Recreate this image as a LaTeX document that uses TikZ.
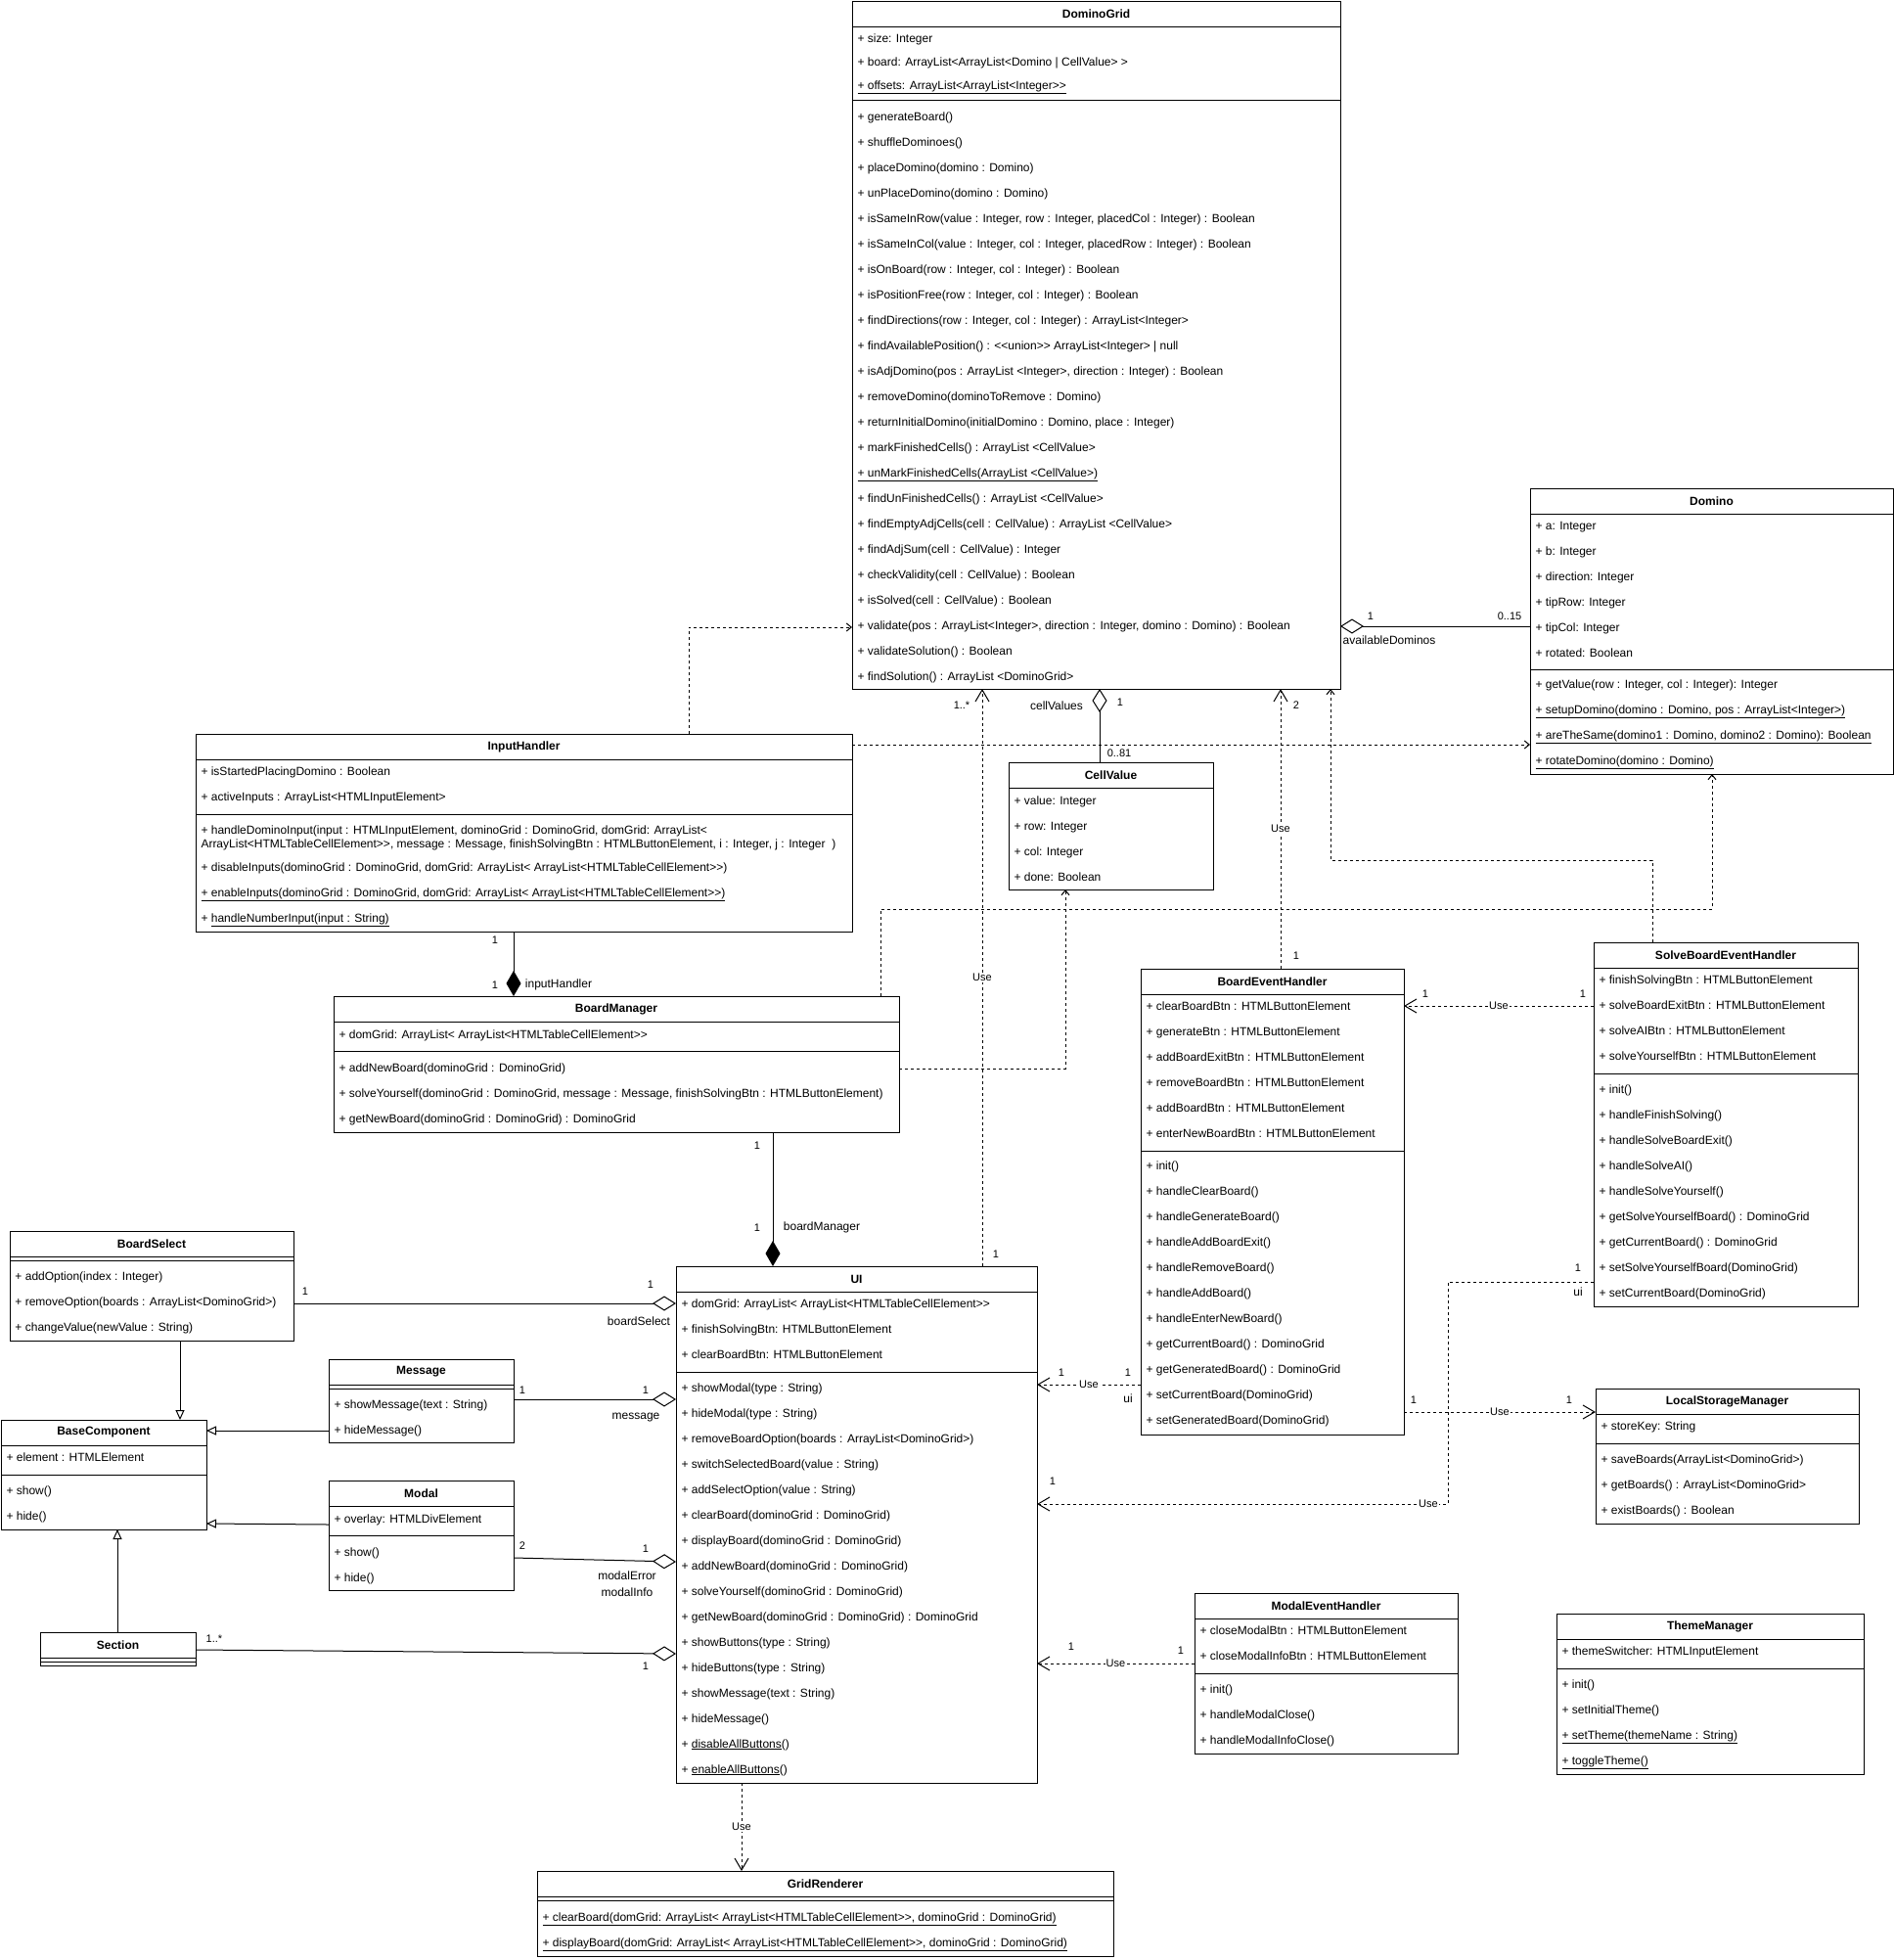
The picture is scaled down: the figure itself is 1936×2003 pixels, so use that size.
\documentclass[tikz,border=0pt]{standalone}
\usepackage{fontspec}
\setmainfont{Liberation Sans}[Ligatures=TeXOff]
\usepackage{tikz}
\usetikzlibrary{calc}
\usetikzlibrary{arrows.meta}
\tikzset{
  class_box/.style = {draw, rectangle, anchor=north west, inner sep=0pt,
    outer sep=0pt, fill=white},
  class_title/.style = {font=\fontsize{12}{14}\selectfont\bfseries, inner sep=0pt},
  member/.style = {anchor=west, inner sep=0pt, font=\fontsize{12}{14}\selectfont,
    text height=8.6pt, text depth=2.5pt},
  mult/.style = {font=\fontsize{11}{13}\selectfont, inner sep=0pt},
  role/.style = {font=\fontsize{12}{14}\selectfont, inner sep=0pt},
  use_label/.style = {font=\fontsize{11}{13}\selectfont, fill=white, inner sep=1pt},
  dep_line/.style = {dash pattern=on 3pt off 3pt,
    -{Straight Barb[length=5pt,width=8pt]}},
  use_line/.style = {dash pattern=on 3pt off 3pt,
    -{Straight Barb[length=12pt,width=14pt]}},
  agg_line/.style = {{Diamond[open,length=24pt,width=15pt]}-},
  comp_line/.style = {-{Diamond[length=26pt,width=15pt]}},
  gen_line/.style = {-{Triangle[open,length=10pt,width=9pt]}}
}
% name, x, y, width, height, title
\newcommand{\umlclass}[6]{%
  \node[class_box, minimum width=#4pt, minimum height=#5pt] (#1) at (#2,#3) {};
  \node[class_title] (#1 title) at ($(#1.north)+(0,13)$) {#6};
  \draw ($(#1.north west)+(0,26)$) -- ($(#1.north east)+(0,26)$);
}
% name, first row centre, row step, rows
\newcommand{\umlrows}[4]{%
  \foreach \row [count=\i from 0] in {#4}
    \node[member] (#1 row #2 \i) at ($(#1.north west)+(5,{#2+#3*\i})$) {\row};
}
\newcommand{\umlsep}[2]{%
  \draw ($(#1.north west)+(0,#2)$) -- ($(#1.north east)+(0,#2)$);
}

\begin{document}
\begin{tikzpicture}[x=1pt, y=-1pt, line width=1pt]
  \useasboundingbox[fill=white] (0,0) rectangle (1936,2003);

  % classes
  \umlclass{dg}{871}{1}{499}{703}{DominoGrid}
  \umlrows{dg}{39}{24}{{+ size: Integer},
    {+ board: ArrayList<ArrayList<Domino | CellValue> >},
    {\underline{+ offsets: ArrayList<ArrayList<Integer>>}}}
  \umlsep{dg}{101}
  \umlrows{dg}{119}{26}{{+ generateBoard()}, {+ shuffleDominoes()},
    {+ placeDomino(domino : Domino)}, {+ unPlaceDomino(domino : Domino)},
    {+ isSameInRow(value : Integer, row : Integer, placedCol : Integer) : Boolean},
    {+ isSameInCol(value : Integer, col : Integer, placedRow : Integer) : Boolean},
    {+ isOnBoard(row : Integer, col : Integer) : Boolean},
    {+ isPositionFree(row : Integer, col : Integer) : Boolean},
    {+ findDirections(row : Integer, col : Integer) : ArrayList<Integer>},
    {+ findAvailablePosition() : <<union>> ArrayList<Integer> | null},
    {+ isAdjDomino(pos : ArrayList <Integer>, direction : Integer) : Boolean},
    {+ removeDomino(dominoToRemove : Domino)},
    {+ returnInitialDomino(initialDomino : Domino, place : Integer)},
    {+ markFinishedCells() : ArrayList <CellValue>},
    {\underline{+ unMarkFinishedCells(ArrayList <CellValue>)}},
    {+ findUnFinishedCells() : ArrayList <CellValue>},
    {+ findEmptyAdjCells(cell : CellValue) : ArrayList <CellValue>},
    {+ findAdjSum(cell : CellValue) : Integer},
    {+ checkValidity(cell : CellValue) : Boolean},
    {+ isSolved(cell : CellValue) : Boolean},
    {+ validate(pos : ArrayList<Integer>, direction : Integer, domino : Domino) : Boolean},
    {+ validateSolution() : Boolean},
    {+ findSolution() : ArrayList <DominoGrid>}}

  \umlclass{dom}{1564}{499}{371}{292}{Domino}
  \umlrows{dom}{39}{26}{{+ a: Integer}, {+ b: Integer}, {+ direction: Integer},
    {+ tipRow: Integer}, {+ tipCol: Integer}, {+ rotated: Boolean}}
  \umlsep{dom}{185}
  \umlrows{dom}{201}{26}{{+ getValue(row : Integer, col : Integer): Integer},
    {\underline{+ setupDomino(domino : Domino, pos : ArrayList<Integer>)}},
    {\underline{+ areTheSame(domino1 : Domino, domino2 : Domino): Boolean}},
    {\underline{+ rotateDomino(domino : Domino)}}}

  \umlclass{cv}{1031}{779}{209}{130}{CellValue}
  \umlrows{cv}{40}{26}{{+ value: Integer}, {+ row: Integer}, {+ col: Integer},
    {+ done: Boolean}}

  \umlclass{ih}{200}{750}{671}{202}{InputHandler}
  \umlrows{ih}{39}{26}{{+ isStartedPlacingDomino : Boolean},
    {+ activeInputs : ArrayList<HTMLInputElement>}}
  \umlsep{ih}{82}
  \umlrows{ih}{99}{14}{{+ handleDominoInput(input : HTMLInputElement, dominoGrid : DominoGrid, domGrid: ArrayList<},
    {ArrayList<HTMLTableCellElement>>, message : Message, finishSolvingBtn : HTMLButtonElement, i : Integer, j : Integer~ )}}
  \umlrows{ih}{137}{26}{{+ disableInputs(dominoGrid : DominoGrid, domGrid: ArrayList< ArrayList<HTMLTableCellElement>>)},
    {\underline{+ enableInputs(dominoGrid : DominoGrid, domGrid: ArrayList< ArrayList<HTMLTableCellElement>>)}},
    {+ \underline{handleNumberInput(input : String)}}}

  \umlclass{bm}{341}{1018}{578}{139}{BoardManager}
  \umlrows{bm}{40}{26}{{+ domGrid: ArrayList< ArrayList<HTMLTableCellElement>>}}
  \umlsep{bm}{56}
  \umlrows{bm}{74}{26}{{+ addNewBoard(dominoGrid : DominoGrid)},
    {+ solveYourself(dominoGrid : DominoGrid, message : Message, finishSolvingBtn : HTMLButtonElement)},
    {+ getNewBoard(dominoGrid : DominoGrid) : DominoGrid}}

  \umlclass{ui}{691}{1294}{369}{528}{UI}
  \umlrows{ui}{39}{26}{{+ domGrid: ArrayList< ArrayList<HTMLTableCellElement>>},
    {+ finishSolvingBtn: HTMLButtonElement}, {+ clearBoardBtn: HTMLButtonElement}}
  \umlsep{ui}{108}
  \umlrows{ui}{125}{26}{{+ showModal(type : String)}, {+ hideModal(type : String)},
    {+ removeBoardOption(boards : ArrayList<DominoGrid>)},
    {+ switchSelectedBoard(value : String)}, {+ addSelectOption(value : String)},
    {+ clearBoard(dominoGrid : DominoGrid)}, {+ displayBoard(dominoGrid : DominoGrid)},
    {+ addNewBoard(dominoGrid : DominoGrid)}, {+ solveYourself(dominoGrid : DominoGrid)},
    {+ getNewBoard(dominoGrid : DominoGrid) : DominoGrid},
    {+ showButtons(type : String)}, {+ hideButtons(type : String)},
    {+ showMessage(text : String)}, {+ hideMessage()},
    {+ \underline{disableAllButtons}()}, {+ \underline{enableAllButtons}()}}

  \umlclass{gr}{549}{1912}{589}{87}{GridRenderer}
  \umlsep{gr}{30}
  \umlrows{gr}{48}{26}{{\underline{+ clearBoard(domGrid: ArrayList< ArrayList<HTMLTableCellElement>>, dominoGrid : DominoGrid)}},
    {\underline{+ displayBoard(domGrid: ArrayList< ArrayList<HTMLTableCellElement>>, dominoGrid : DominoGrid)}}}

  \umlclass{bs}{10}{1258}{290}{112}{BoardSelect}
  \umlsep{bs}{30}
  \umlrows{bs}{47}{26}{{+ addOption(index : Integer)},
    {+ removeOption(boards : ArrayList<DominoGrid>)}, {+ changeValue(newValue : String)}}

  \umlclass{bc}{1}{1451}{210}{112}{BaseComponent}
  \umlrows{bc}{39}{26}{{+ element : HTMLElement}}
  \umlsep{bc}{56}
  \umlrows{bc}{73}{26}{{+ show()}, {+ hide()}}

  \umlclass{msg}{336}{1389}{189}{85}{Message}
  \umlsep{msg}{30}
  \umlrows{msg}{47}{26}{{+ showMessage(text : String)}, {+ hideMessage()}}

  \umlclass{mod}{336}{1513}{189}{112}{Modal}
  \umlrows{mod}{40}{26}{{+ overlay: HTMLDivElement}}
  \umlsep{mod}{56}
  \umlrows{mod}{74}{26}{{+ show()}, {+ hide()}}

  \umlclass{sec}{41}{1668}{159}{34}{Section}
  \umlsep{sec}{30}

  \umlclass{beh}{1166}{990}{269}{476}{BoardEventHandler}
  \umlrows{beh}{39}{26}{{+ clearBoardBtn : HTMLButtonElement},
    {+ generateBtn : HTMLButtonElement}, {+ addBoardExitBtn : HTMLButtonElement},
    {+ removeBoardBtn : HTMLButtonElement}, {+ addBoardBtn : HTMLButtonElement},
    {+ enterNewBoardBtn : HTMLButtonElement}}
  \umlsep{beh}{186}
  \umlrows{beh}{202}{26}{{+ init()}, {+ handleClearBoard()}, {+ handleGenerateBoard()},
    {+ handleAddBoardExit()}, {+ handleRemoveBoard()}, {+ handleAddBoard()},
    {+ handleEnterNewBoard()}, {+ getCurrentBoard() : DominoGrid},
    {+ getGeneratedBoard() : DominoGrid}, {+ setCurrentBoard(DominoGrid)},
    {+ setGeneratedBoard(DominoGrid)}}

  \umlclass{sbeh}{1629}{963}{270}{372}{SolveBoardEventHandler}
  \umlrows{sbeh}{39}{26}{{+ finishSolvingBtn : HTMLButtonElement},
    {+ solveBoardExitBtn : HTMLButtonElement}, {+ solveAIBtn : HTMLButtonElement},
    {+ solveYourselfBtn : HTMLButtonElement}}
  \umlsep{sbeh}{134}
  \umlrows{sbeh}{151}{26}{{+ init()}, {+ handleFinishSolving()}, {+ handleSolveBoardExit()},
    {+ handleSolveAI()}, {+ handleSolveYourself()},
    {+ getSolveYourselfBoard() : DominoGrid}, {+ getCurrentBoard() : DominoGrid},
    {+ setSolveYourselfBoard(DominoGrid)}, {+ setCurrentBoard(DominoGrid)}}

  \umlclass{lsm}{1631}{1419}{269}{138}{LocalStorageManager}
  \umlrows{lsm}{39}{26}{{+ storeKey: String}}
  \umlsep{lsm}{56}
  \umlrows{lsm}{73}{26}{{+ saveBoards(ArrayList<DominoGrid>)},
    {+ getBoards() : ArrayList<DominoGrid>}, {+ existBoards() : Boolean}}

  \umlclass{meh}{1221}{1628}{269}{164}{ModalEventHandler}
  \umlrows{meh}{39}{26}{{+ closeModalBtn : HTMLButtonElement},
    {+ closeModalInfoBtn : HTMLButtonElement}}
  \umlsep{meh}{82}
  \umlrows{meh}{99}{26}{{+ init()}, {+ handleModalClose()}, {+ handleModalInfoClose()}}

  \umlclass{tm}{1591}{1649}{314}{164}{ThemeManager}
  \umlrows{tm}{39}{26}{{+ themeSwitcher: HTMLInputElement}}
  \umlsep{tm}{56}
  \umlrows{tm}{73}{26}{{+ init()}, {+ setInitialTheme()},
    {\underline{+ setTheme(themeName : String)}}, {\underline{+ toggleTheme()}}}

  % dependencies
  \draw[use_line] ([xshift=313pt]ui.north west) coordinate (c ui dg)
    -- node[use_label] (use ui dg) {Use} (c ui dg |- dg.south);
  \draw[use_line] ([xshift=143pt]beh.north west) coordinate (c beh dg)
    -- node[use_label] (use beh dg) {Use} (c beh dg |- dg.south);
  \draw[dep_line] ([xshift=60pt]sbeh.north west) -- ++(0,-84)
    -| ([xshift=-10pt]dg.south east);
  \draw[dep_line] ([xshift=-19pt]bm.north east) -- ++(0,-89)
    -| ([xshift=186pt]dom.south west);
  \draw[dep_line] ([yshift=-74pt]bm.north east) -| ([xshift=58pt]cv.south west);
  \draw[dep_line] ([xshift=504pt]ih.north west) |- ([yshift=-640pt]dg.north west);
  \draw[dep_line] ([yshift=-11pt]ih.north east) coordinate (c ih dom)
    -- (c ih dom -| dom.west);
  \draw[use_line] ([yshift=-65pt]sbeh.north west) coordinate (c sbeh beh)
    -- node[use_label] (use sbeh beh) {Use} (c sbeh beh -| beh.east);
  \draw[use_line] ([yshift=-347pt]sbeh.north west) -- ++(-149,0)
    |- node[use_label, pos=0.524] (use sbeh ui) {Use} ([yshift=-243pt]ui.north east);
  \draw[use_line] ([yshift=-425pt]beh.north west) coordinate (c beh ui)
    -- node[use_label] (use beh ui) {Use} (c beh ui -| ui.east);
  \draw[use_line] ([yshift=-453pt]beh.north east) coordinate (c beh lsm)
    -- node[use_label] (use beh lsm) {Use} (c beh lsm -| lsm.west);
  \draw[use_line] ([yshift=-72pt]meh.north west) coordinate (c meh ui)
    -- node[use_label] (use meh ui) {Use} (c meh ui -| ui.east);
  \draw[use_line] ([xshift=67pt]ui.south west) coordinate (c ui gr)
    -- node[use_label] (use ui gr) {Use} (c ui gr |- gr.north);

  % aggregations and compositions
  \draw[agg_line] ([yshift=-639pt]dg.north east) coordinate (c dg dom)
    -- (c dg dom -| dom.west);
  \draw[agg_line] ([xshift=93pt]cv.north west |- dg.south) -- ([xshift=93pt]cv.north west);
  \draw[comp_line] ([xshift=325pt]ih.south west) coordinate (c ih bm)
    -- (c ih bm |- bm.north);
  \draw[comp_line] ([xshift=449pt]bm.south west) coordinate (c bm ui)
    -- (c bm ui |- ui.north);
  \draw[agg_line] ([yshift=-38pt]ui.north west) coordinate (c ui bs)
    -- (c ui bs -| bs.east);
  \draw[agg_line] ([yshift=-136pt]ui.north west) coordinate (c ui msg)
    -- (c ui msg -| msg.east);
  \draw[agg_line] ([yshift=-302pt]ui.north west) -- ([yshift=-79pt]mod.north east);
  \draw[agg_line] ([yshift=-396pt]ui.north west) -- ([yshift=-18pt]sec.north east);

  % generalizations
  \draw[gen_line] ([xshift=174pt]bs.south west) coordinate (c bs bc)
    -- (c bs bc |- bc.north);
  \draw[gen_line] ([yshift=-73pt]msg.north west) -- ([yshift=-11pt]bc.north east);
  \draw[gen_line] ([yshift=-45pt]mod.north west) -- ([yshift=-106pt]bc.north east);
  \draw[gen_line] ([xshift=79pt]sec.north west) coordinate (c sec bc)
    -- (c sec bc |- bc.south);

  % multiplicities
  \foreach \x/\y/\txt [count=\k] in {
      1018/1282/1, 983/721/1..*, 1325/721/2, 1325/977/1, 1401/630/1,
      1543/630/0..15, 1145/718/1, 1144/770/0..81, 506/961/1, 506/1007/1,
      774/1171/1, 774/1255/1, 312/1320/1, 665/1313/1, 534/1421/1,
      660/1421/1, 534/1580/2, 660/1583/1, 219/1675/1..*, 660/1703/1,
      1457/1016/1, 1618/1016/1, 1613/1296/1, 1076/1514/1, 1085/1403/1,
      1153/1403/1, 1445/1431/1, 1604/1431/1, 1095/1683/1, 1207/1687/1}
    \node[mult] (mult \k) at (\x,\y) {\txt};

  % role names
  \foreach \x/\y/\txt [count=\k] in {
      1420/654/availableDominos, 1080/721/cellValues, 571/1006/inputHandler,
      840/1254/boardManager, 653/1350/boardSelect, 650/1448/message,
      641/1610/modalError, 641/1627/modalInfo, 1613/1320/ui, 1153/1429/ui}
    \node[role] (role \k) at (\x,\y) {\txt};
\end{tikzpicture}
\end{document}
